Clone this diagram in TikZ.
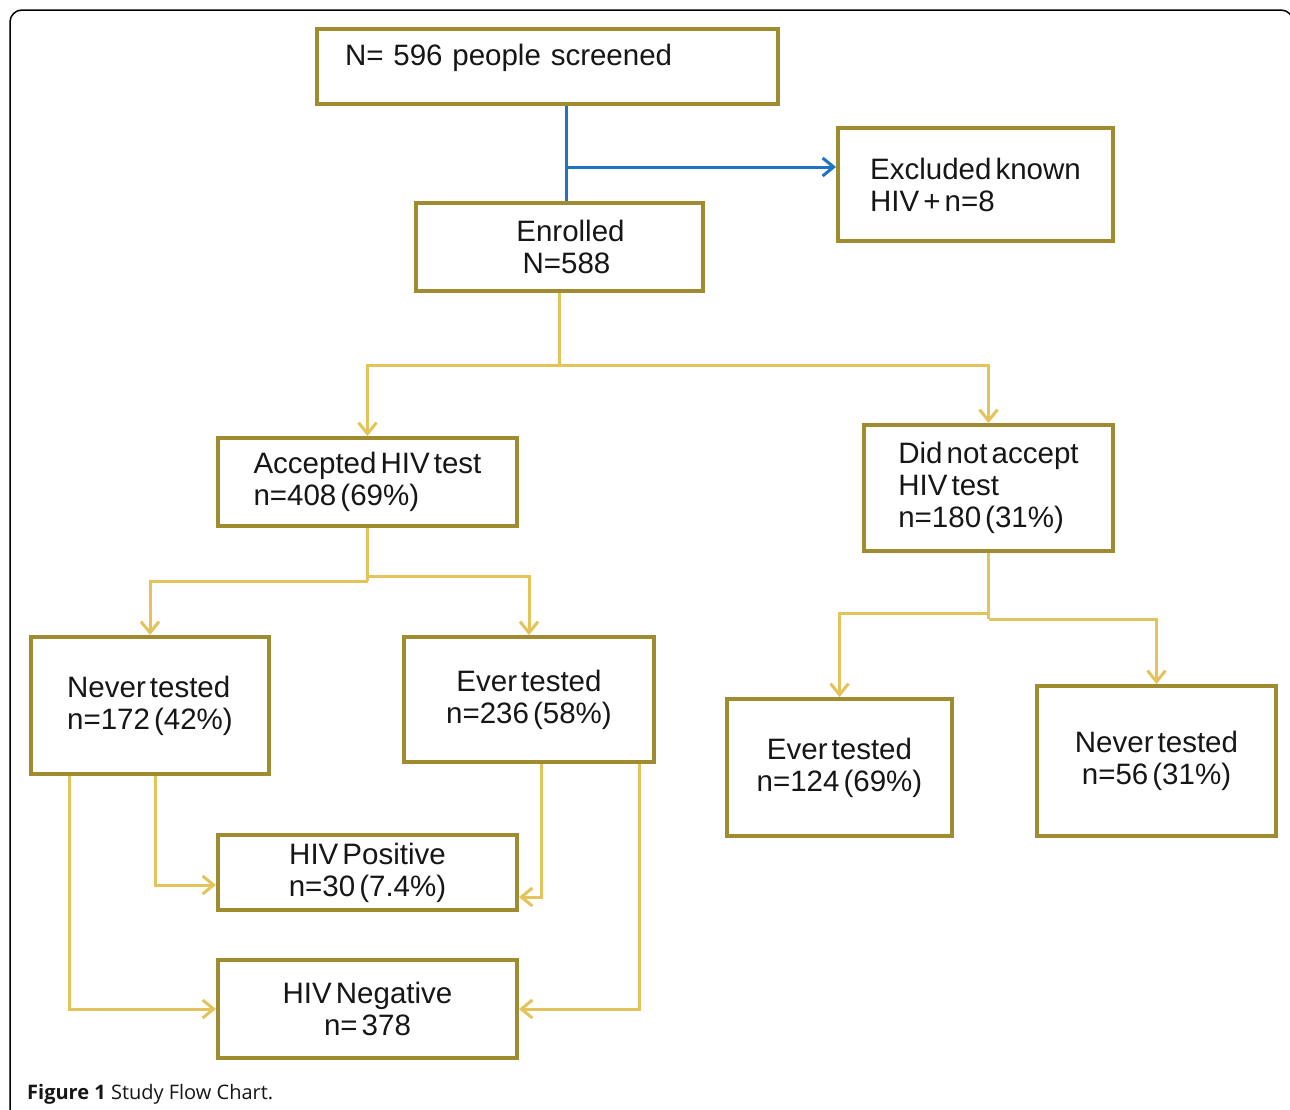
\documentclass[tikz,border=0pt]{standalone}
\usepackage{fontspec}
\setmainfont{Liberation Sans}[WordSpace=0.5]
\newfontfamily\capfont{Open Sans}
\usetikzlibrary{arrows.meta}
\definecolor{boxgold}{HTML}{A08C30}
\definecolor{linkgold}{HTML}{E3C35A}
\definecolor{linkblue}{HTML}{1E74C0}
\definecolor{inkgray}{HTML}{161616}
\begin{document}
\begin{tikzpicture}[x=1pt,y=-1pt,
	box/.style={draw=boxgold, line width=4pt, fill=white, text=inkgray, inner sep=0pt,
		font=\fontsize{29.5}{32}\selectfont},
	link/.style={draw=linkgold, line width=3pt},
	linkarrow/.style={link, -{Straight Barb[length=11pt,width=18pt]}},
	bluearrow/.style={draw=linkblue, line width=3pt, -{Straight Barb[length=11pt,width=18pt]}}]
		\clip (0,0) rectangle (1290,1109);
		\fill[white] (0,0) rectangle (1290,1109);
		\draw[line width=1.5pt, rounded corners=12pt] (10,1130) -- (10,10) -- (1293,10) -- (1293,1130);
		\node[box, minimum width=461, minimum height=75, align=left, text width=405,
			text height=20pt, text depth=22pt] (screened) at (547.5,66.5) {N= 596 people screened};
		\node[box, minimum width=275, minimum height=113, align=left] (excluded) at (975.5,184.5) {Excluded known\\HIV + n=8};
		\node[box, minimum width=287, minimum height=88, align=center] (enrolled) at (559.5,247) {\hspace*{22pt}Enrolled\\\hspace*{14pt}N=588};
		\node[box, minimum width=299, minimum height=88, align=left] (accepted) at (367.5,482) {Accepted HIV test\\n=408 (69\%)};
		\node[box, minimum width=249, minimum height=126, align=left] (refused) at (988.5,488) {Did not accept\\HIV test\\n=180 (31\%)};
		\node[box, minimum width=238, minimum height=137, align=left] (neverA) at (150,705.5) {Never tested\\n=172 (42\%)};
		\node[box, minimum width=250, minimum height=125, align=center] (everA) at (529,699.5) {Ever tested\\n=236 (58\%)};
		\node[box, minimum width=225, minimum height=137, align=center] (everR) at (839.5,767.5) {Ever tested\\n=124 (69\%)};
		\node[box, minimum width=239, minimum height=150, align=center] (neverR) at (1156.5,761) {Never tested\\n=56 (31\%)};
		\node[box, minimum width=299, minimum height=75, align=center] (pos) at (367.5,872.5) {HIV Positive\\n=30 (7.4\%)};
		\node[box, minimum width=299, minimum height=98, align=center] (neg) at (367.5,1009) {HIV Negative\\n= 378};
		\coordinate (split) at ([xshift=18.5pt,yshift=-61pt]screened.south);
		\draw[draw=linkblue, line width=3pt] ([xshift=18.5pt]screened.south) -- ([xshift=6.5pt]enrolled.north);
		\draw[bluearrow] (split) -- (split -| excluded.west);
		\draw[link] (enrolled.south) -- ++(0,72) coordinate (e1);
		\draw[linkarrow] (e1) -| (accepted.north);
		\draw[linkarrow] (e1) -| (refused.north);
		\draw[link] (accepted.south) -- ++(0,53) coordinate (a1);
		\draw[linkarrow] (a1) -| (neverA.north);
		\draw[linkarrow] ([yshift=5pt]a1) -| (everA.north);
		\draw[link] (refused.south) -- ++(0,66) coordinate (r1);
		\draw[linkarrow] ([yshift=6pt]r1) -| (everR.north);
		\draw[linkarrow] (r1) -| (neverR.north);
		\draw[linkarrow] ([xshift=5pt]neverA.south) |- ([yshift=-12.5pt]pos.west);
		\draw[linkarrow] ([xshift=-81pt]neverA.south) |- (neg.west);
		\draw[linkarrow] ([xshift=12pt]everA.south) |- ([yshift=-24.5pt]pos.east);
		\draw[linkarrow] ([xshift=110pt]everA.south) |- (neg.east);
		\node[anchor=base west, inner sep=0pt, text=inkgray, font=\capfont\fontsize{20}{24}\selectfont] (caption) at (27,1099) {\textbf{Figure 1} Study Flow Chart.};
	\end{tikzpicture}
\end{document}
